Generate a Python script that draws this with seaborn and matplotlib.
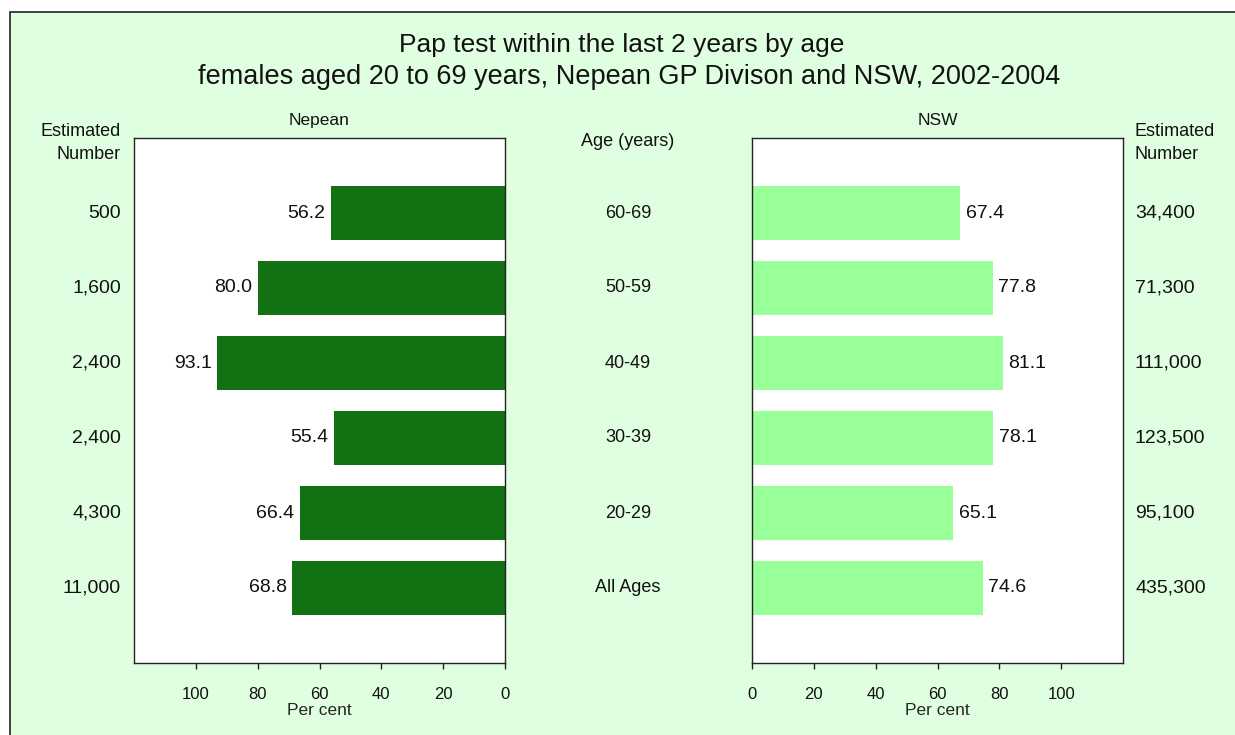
"""
Pap test within the last 2 years by age - Nepean GP Division vs NSW,
back-to-back horizontal bars with estimated numbers at the sides.
"""

import matplotlib
matplotlib.use("Agg")
import matplotlib.pyplot as plt
import matplotlib.transforms as mtransforms
from matplotlib.patches import Rectangle
import pandas as pd
import seaborn as sns


AGE_GROUPS = ["60-69", "50-59", "40-49", "30-39", "20-29", "All Ages"]
NEPEAN_PCT = [56.2, 80.0, 93.1, 55.4, 66.4, 68.8]
NSW_PCT = [67.4, 77.8, 81.1, 78.1, 65.1, 74.6]
NEPEAN_EST = ["500", "1,600", "2,400", "2,400", "4,300", "11,000"]
NSW_EST = ["34,400", "71,300", "111,000", "123,500", "95,100", "435,300"]
X_TICKS = [0, 20, 40, 60, 80, 100]

BG = "#E0FFE0"
DARK = "#127112"
LIGHT = "#99FF99"

sns.set_style("white")
plt.rcParams.update({
    "font.family": ["Liberation Sans", "DejaVu Sans"],
    "axes.edgecolor": "#222222",
    "axes.linewidth": 1.0,
    "xtick.color": "#222222",
    "text.color": "#111111",
})

W, H = 1235, 735
fig = plt.figure(figsize=(W / 100, H / 100), dpi=100, facecolor="white")

# outer green panel with its frame (right/bottom edges run off the image)
fig.patches.append(Rectangle((10 / W, -0.05), 1.2, 1 - 12 / H + 0.05,
                             transform=fig.transFigure, facecolor=BG,
                             edgecolor="#222222", linewidth=1.2, zorder=-10))

ax_l = fig.add_axes([134 / W, 1 - 663 / H, 371 / W, 525 / H])
ax_r = fig.add_axes([752 / W, 1 - 663 / H, 371 / W, 525 / H])

df = pd.DataFrame({"age": AGE_GROUPS, "nepean": NEPEAN_PCT, "nsw": NSW_PCT})

sns.barplot(data=df, x="nepean", y="age", orient="h", color=DARK,
            saturation=1, width=0.72, linewidth=0, ax=ax_l)
sns.barplot(data=df, x="nsw", y="age", orient="h", color=LIGHT,
            saturation=1, width=0.72, linewidth=0, ax=ax_r)

for ax, vals, side in [(ax_l, NEPEAN_PCT, -1), (ax_r, NSW_PCT, 1)]:
    ax.set_facecolor("white")
    ax.set_xlim(0, 120)
    ax.set_ylim(6, -1)
    ax.set_yticks([])
    ax.set_ylabel("")
    ax.set_xticks(X_TICKS)
    ax.tick_params(axis="x", direction="out", length=4, width=1,
                   pad=13, labelsize=12, bottom=True, labelcolor="#111111")
    ax.set_xlabel("Per cent", fontsize=12.5, labelpad=1)
    for sp in ax.spines.values():
        sp.set_visible(True)
    for i, v in enumerate(vals):
        ax.annotate(f"{v:.1f}", xy=(v, i), xytext=(4 * side, 0),
                    textcoords="offset points", va="center",
                    ha="left" if side > 0 else "right", fontsize=14)

ax_l.invert_xaxis()

ax_l.text(0.5, 1.034, "Nepean", transform=ax_l.transAxes, ha="center",
          va="center", fontsize=12.5)
ax_r.text(0.5, 1.034, "NSW", transform=ax_r.transAxes, ha="center",
          va="center", fontsize=12.5)

# side columns: estimated numbers and age groups
tr = mtransforms.blended_transform_factory(fig.transFigure, ax_l.transData)
for i in range(len(AGE_GROUPS)):
    fig.text(121 / W, i, NEPEAN_EST[i], transform=tr, ha="right",
             va="center", fontsize=14)
    fig.text(1135 / W, i, NSW_EST[i], transform=tr, ha="left",
             va="center", fontsize=14)
    fig.text(628 / W, i, AGE_GROUPS[i], transform=tr, ha="center",
             va="center", fontsize=13)

fig.text(121 / W, 1 - 143 / H, "Estimated\nNumber", ha="right", va="center",
         fontsize=13, linespacing=1.5)
fig.text(1135 / W, 1 - 143 / H, "Estimated\nNumber", ha="left", va="center",
         fontsize=13, linespacing=1.5)
fig.text(628 / W, 1 - 141 / H, "Age (years)", ha="center", va="center",
         fontsize=13)

fig.text(622 / W, 1 - 45 / H, "Pap test within the last 2 years by age",
         ha="center", va="center", fontsize=19)
fig.text(629 / W, 1 - 77 / H,
         "females aged 20 to 69 years, Nepean GP Divison and NSW, 2002-2004",
         ha="center", va="center", fontsize=19.5)

fig.savefig("out.png", dpi=100, facecolor="white")
